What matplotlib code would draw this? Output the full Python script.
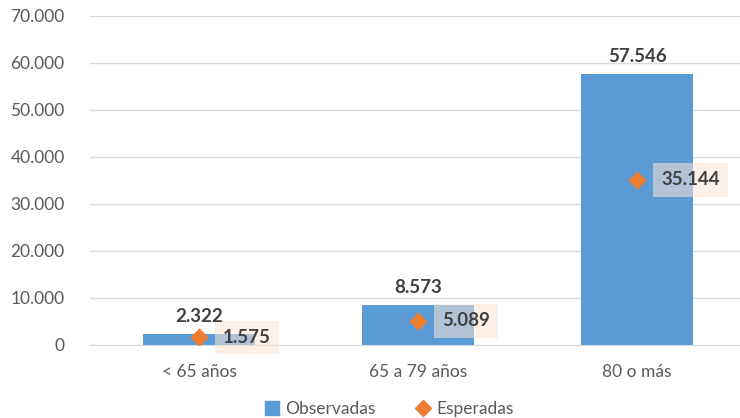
import matplotlib.pyplot as plt
from matplotlib.lines import Line2D
from matplotlib.ticker import FuncFormatter

categories = ["< 65 años", "65 a 79 años", "80 o más"]
observadas = [2322, 8573, 57546]
esperadas = [1575, 5089, 35144]

azul = "#5B9BD5"
naranja = "#ED7D31"


def miles(v, pos=None):
    return f"{int(v):,}".replace(",", ".")


plt.rcParams['font.family'] = ['Lato', 'DejaVu Sans']

fig = plt.figure(figsize=(7.4, 4.18), dpi=100)
ax = fig.add_axes([0.121, 0.175, 0.888, 0.787])

x = range(len(categories))
ax.bar(x, observadas, width=0.51, color=azul, zorder=2)
ax.scatter(x, esperadas, marker="D", s=70, color=naranja, zorder=4)

# etiquetas de las barras
for i, v in enumerate(observadas):
    ax.annotate(miles(v), (i, v), xytext=(0, 9), textcoords="offset pixels",
                ha="center", va="bottom", fontsize=13.5, fontweight="bold",
                color="#404040", zorder=5)

# etiquetas de esperadas con recuadro
for i, v in enumerate(esperadas):
    ax.annotate(miles(v), (i, v), xytext=(24, 0), textcoords="offset pixels",
                ha="left", va="center", fontsize=13.5, fontweight="bold",
                color="#404040", zorder=3,
                bbox=dict(boxstyle="square,pad=0.45", facecolor="#FBE5D6",
                          edgecolor="none", alpha=0.55))

ax.set_ylim(0, 70000)
ax.set_xlim(-0.5, 2.5)
ax.set_yticks(range(0, 70001, 10000))
ax.yaxis.set_major_formatter(FuncFormatter(miles))
ax.set_xticks(list(x))
ax.set_xticklabels(categories)
ax.grid(axis="y", color="#D9D9D9", linewidth=1, zorder=0)
ax.set_axisbelow(True)

for s in ["top", "right", "left"]:
    ax.spines[s].set_visible(False)
ax.spines["bottom"].set_color("#D9D9D9")
ax.tick_params(axis="both", length=0, colors="#595959", labelsize=12.5)
ax.tick_params(axis="y", pad=18)
ax.tick_params(axis="x", pad=14)

handles = [Line2D([], [], marker="s", linestyle="none", markersize=10,
                  color=azul),
           Line2D([], [], marker="D", linestyle="none", markersize=8,
                  color=naranja)]
fig.legend(handles, ["Observadas", "Esperadas"], loc="lower center", ncol=2,
           frameon=False, fontsize=12.5, labelcolor="#595959",
           handletextpad=0.3, columnspacing=2.2, handlelength=1.0,
           bbox_to_anchor=(0.525, -0.035))

fig.savefig("out.png", dpi=100)
